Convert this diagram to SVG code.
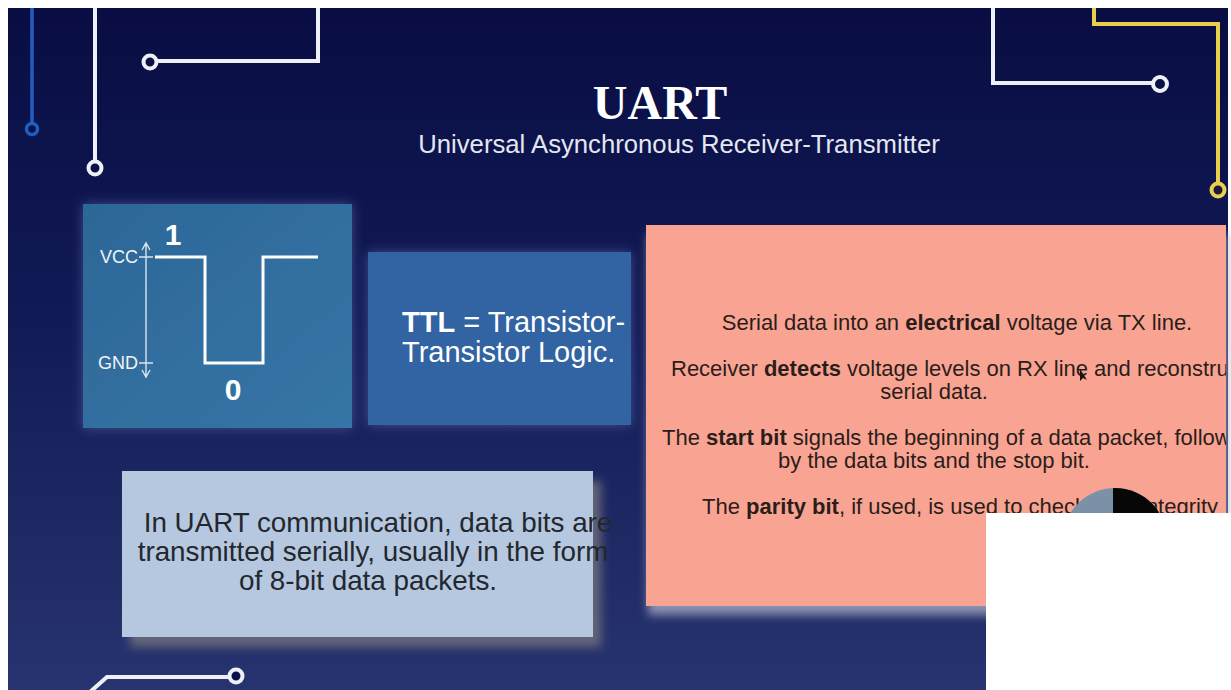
<svg xmlns="http://www.w3.org/2000/svg" width="1231" height="690" viewBox="0 0 1231 690">
  <defs>
    <linearGradient id="bg" x1="0" y1="0" x2="0" y2="1">
      <stop offset="0" stop-color="#090d43"/>
      <stop offset="0.45" stop-color="#111a55"/>
      <stop offset="1" stop-color="#28346f"/>
    </linearGradient>
    <linearGradient id="sigfill" x1="0" y1="0" x2="1" y2="1">
      <stop offset="0" stop-color="#2c6797"/>
      <stop offset="1" stop-color="#3675a7"/>
    </linearGradient>
    <filter id="glow" x="-20%" y="-20%" width="140%" height="140%">
      <feDropShadow dx="0" dy="0" stdDeviation="6" flood-color="#6f7fc0" flood-opacity="0.5"/>
    </filter>
    <filter id="shadowGray" x="-10%" y="-10%" width="125%" height="135%">
      <feDropShadow dx="8" dy="10" stdDeviation="5" flood-color="#70707a" flood-opacity="0.85"/>
    </filter>
    <filter id="shadowLight" x="-10%" y="-10%" width="120%" height="125%">
      <feDropShadow dx="2" dy="9" stdDeviation="5" flood-color="#a6aac4" flood-opacity="0.8"/>
    </filter>
    <clipPath id="salmonClip">
      <rect x="646" y="225" width="580" height="381"/>
    </clipPath>
    <clipPath id="discClip">
      <circle cx="1115" cy="540" r="52"/>
    </clipPath>
    <style>
      .trace { fill: none; stroke: #eef0f8; stroke-width: 4; stroke-linejoin: miter; }
      .pad { fill: #0b1048; stroke: #eef0f8; stroke-width: 4; }
      .traceB { fill: none; stroke: #1f5fc4; stroke-width: 3.5; }
      .padB { fill: #0b1048; stroke: #1f5fc4; stroke-width: 3.5; }
      .traceY { fill: none; stroke: #e9d04c; stroke-width: 4; }
      .padY { fill: #1a1a40; stroke: #e9d04c; stroke-width: 4; }
      .sans { font-family: "Liberation Sans", Arial, sans-serif; }
      .salmonText { font-family: "Liberation Sans", Arial, sans-serif; font-size: 22px; fill: #2b1d1a; }
      .boxText { font-family: "Liberation Sans", Arial, sans-serif; font-size: 27.8px; fill: #23272e; text-anchor: middle; }
      .axis { fill: none; stroke: #dbe4ee; stroke-width: 1.4; }
      .lvl { font-family: "Liberation Sans", Arial, sans-serif; font-size: 18px; fill: #f2f5f8; text-anchor: end; }
    </style>
  </defs>

  <rect x="0" y="0" width="1231" height="690" fill="#ffffff"/>
  <rect x="8" y="8" width="1220" height="682" fill="url(#bg)"/>

  <g id="circuit-traces">
    <path class="traceB" d="M32 8 V123"/>
    <circle class="padB" cx="32" cy="129" r="5.5"/>
    <path class="trace" d="M95 8 V161"/>
    <circle class="pad" cx="95" cy="168" r="6.5"/>
    <path class="trace" d="M157 61 H318 V8"/>
    <circle class="pad" cx="150" cy="62" r="6.5"/>
    <path class="trace" d="M993 8 V83 H1153"/>
    <circle class="pad" cx="1160" cy="84" r="7"/>
    <path class="traceY" d="M1094 8 V24 H1218 V183"/>
    <circle class="padY" cx="1218" cy="190" r="6.5"/>
    <path class="trace" d="M90 692 L107 677 H229"/>
    <circle class="pad" cx="236" cy="676" r="6.5"/>
  </g>

  <g id="title">
    <text x="660" y="119" text-anchor="middle" font-family="'Liberation Serif', 'Times New Roman', serif" font-weight="bold" font-size="48" fill="#ffffff">UART</text>
    <text x="679" y="153" text-anchor="middle" class="sans" font-size="25.7" fill="#e4e7f2">Universal Asynchronous Receiver-Transmitter</text>
  </g>

  <g id="signal-box">
    <rect x="83" y="204" width="269" height="224" fill="url(#sigfill)" filter="url(#glow)"/>
    <text x="138" y="263" class="lvl">VCC</text>
    <text x="138" y="369" class="lvl">GND</text>
    <path class="axis" d="M146 243 V377 M142 250 L146 243 L150 250 M142 370 L146 377 L150 370 M139 257 H153 M139 363 H153"/>
    <polyline points="155,257 205,257 205,363 263,363 263,257 318,257" fill="none" stroke="#ffffff" stroke-width="3"/>
    <text x="173" y="245" text-anchor="middle" class="sans" font-weight="bold" font-size="30" fill="#ffffff">1</text>
    <text x="233" y="400" text-anchor="middle" class="sans" font-weight="bold" font-size="30" fill="#ffffff">0</text>
  </g>

  <g id="ttl-box">
    <rect x="368" y="252" width="263" height="173" fill="#3064a2" filter="url(#glow)"/>
    <text x="402" y="332" class="sans" font-size="29" fill="#ffffff"><tspan font-weight="bold">TTL</tspan> = Transistor-</text>
    <text x="402" y="362" class="sans" font-size="29" fill="#ffffff">Transistor Logic.</text>
  </g>

  <g id="serial-box">
    <rect x="646" y="225" width="580" height="381" fill="#f9a492" filter="url(#shadowLight)"/>
    <g clip-path="url(#salmonClip)">
      <text x="957" y="330" text-anchor="middle" class="salmonText">Serial data into an <tspan font-weight="bold">electrical</tspan> voltage via TX line.</text>
      <text x="671" y="376" class="salmonText">Receiver <tspan font-weight="bold">detects</tspan> voltage levels on RX line and reconstructs</text>
      <text x="934" y="399" text-anchor="middle" class="salmonText">serial data.</text>
      <text x="662" y="445" class="salmonText">The <tspan font-weight="bold">start bit</tspan> signals the beginning of a data packet, followed</text>
      <text x="934" y="468" text-anchor="middle" class="salmonText">by the data bits and the stop bit.</text>
      <text x="702" y="514" class="salmonText">The <tspan font-weight="bold">parity bit</tspan>, if used, is used to check data integrity</text>
    </g>
    <path d="M1080 369 L1080 381 L1083 378 L1087 380 Z" fill="#1a1210"/>
  </g>

  <g id="packet-box">
    <rect x="122" y="471" width="471" height="166" fill="#b5c8df" filter="url(#shadowGray)"/>
    <text x="378" y="532" class="boxText">In UART communication, data bits are</text>
    <text x="373" y="561" class="boxText">transmitted serially, usually in the form</text>
    <text x="368" y="590" class="boxText">of 8-bit data packets.</text>
  </g>

  <g id="overlay">
    <g clip-path="url(#discClip)">
      <rect x="1055" y="485" width="125" height="40" fill="#7b91a8"/>
      <rect x="1113" y="485" width="50" height="40" fill="#070707"/>
    </g>
    <rect x="986" y="513" width="245" height="177" fill="#ffffff"/>
  </g>
</svg>
